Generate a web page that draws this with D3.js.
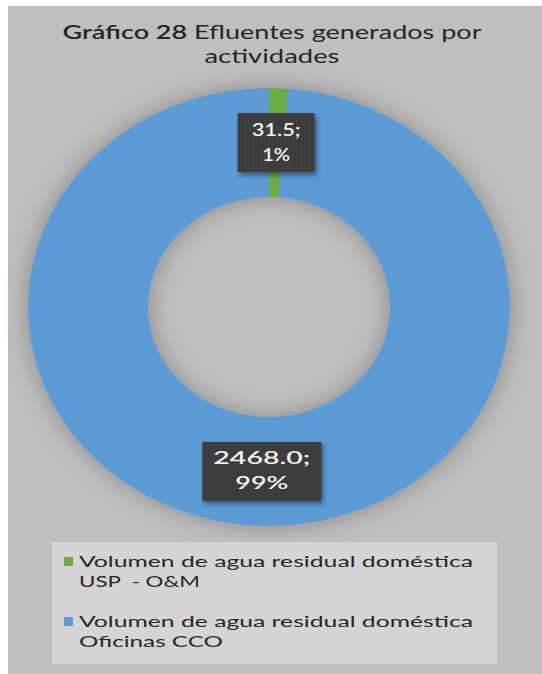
<!DOCTYPE html>
<html>
<head>
<meta charset="utf-8">
<script src="https://cdn.jsdelivr.net/npm/d3@7"></script>
<style>
  html, body { margin: 0; padding: 0; background: #fff; }
  svg { display: block; }
  text { font-family: Lato, "Liberation Sans", sans-serif; }
</style>
</head>
<body>
<div id="chart"></div>
<script>
// datos del gráfico
const categories = ['USP  - O&M', 'Oficinas CCO'];
const legendPrefix = 'Volumen de agua residual doméstica';
const values = [31.5, 2468.0];
const colors = ['#6cab44', '#5b9bd6'];
const titleBold = 'Gráfico 28';
const titleRest = ' Efluentes generados por';
const titleLine2 = 'actividades';

const width = 542, height = 674;
const svg = d3.select('#chart').append('svg')
    .attr('width', width)
    .attr('height', height);

// fondo gris
svg.append('rect')
    .attr('x', 8).attr('y', 6)
    .attr('width', width - 8).attr('height', height - 6)
    .attr('fill', '#bfbfbf');

const defs = svg.append('defs');
const shadow = defs.append('filter').attr('id', 'sombra')
    .attr('x', '-20%').attr('y', '-20%').attr('width', '140%').attr('height', '140%');
shadow.append('feDropShadow')
    .attr('dx', 0).attr('dy', 0)
    .attr('stdDeviation', 11)
    .attr('flood-color', '#000').attr('flood-opacity', 0.3);

const boxShadow = defs.append('filter').attr('id', 'sombraCaja')
    .attr('x', '-20%').attr('y', '-20%').attr('width', '150%').attr('height', '150%');
boxShadow.append('feDropShadow')
    .attr('dx', 2).attr('dy', 3)
    .attr('stdDeviation', 2.5)
    .attr('flood-color', '#000').attr('flood-opacity', 0.45);

const dots = defs.append('pattern').attr('id', 'puntos')
    .attr('width', 4).attr('height', 4).attr('patternUnits', 'userSpaceOnUse');
dots.append('rect').attr('width', 4).attr('height', 4).attr('fill', '#3b3b3b');
dots.append('circle').attr('cx', 1).attr('cy', 1).attr('r', 0.6).attr('fill', '#555');

// helper: texto con ancho fijo
function addText(parent, x, y, str, size, len, opts = {}) {
    return parent.append('text')
        .attr('x', x).attr('y', y)
        .attr('text-anchor', opts.anchor || 'start')
        .attr('font-size', size)
        .attr('font-weight', opts.weight || 'normal')
        .attr('fill', opts.fill || '#262626')
        .attr('textLength', len)
        .attr('lengthAdjust', 'spacingAndGlyphs')
        .style('white-space', 'pre')
        .text(str);
}

// título
const title = svg.append('text')
    .attr('x', 272).attr('y', 39)
    .attr('text-anchor', 'middle')
    .attr('font-size', 19)
    .attr('fill', '#262626')
    .attr('textLength', 419)
    .attr('lengthAdjust', 'spacingAndGlyphs');
title.append('tspan').attr('font-weight', 600).text(titleBold);
title.append('tspan').text(titleRest);
addText(svg, 272, 63, titleLine2, 19, 135, { anchor: 'middle' });

// dona (ligeramente estirada en horizontal)
const cx = 269, cy = 307, outerR = 219, innerR = 110, sx = 1.1;
const pie = d3.pie().sort(null).value(d => d);
const arcs = pie(values);
const arc = d3.arc().innerRadius(innerR).outerRadius(outerR);

const g = svg.append('g')
    .attr('transform', `translate(${cx},${cy}) scale(${sx},1)`)
    .attr('filter', 'url(#sombra)');
g.selectAll('path')
    .data(arcs)
    .enter()
    .append('path')
    .attr('d', arc)
    .attr('fill', (d, i) => colors[i]);

// etiquetas de datos
const total = d3.sum(values);
const boxSizes = [[77, 59], [119, 59]];
const lineWidths = [[49, 28], [97, 53]];
const labels = svg.append('g');
arcs.forEach((d, i) => {
    const c = arc.centroid(d);
    const x = cx + c[0] * sx, y = cy + c[1];
    const [bw, bh] = boxSizes[i];
    const lg = labels.append('g').attr('transform', `translate(${x},${y})`);
    lg.append('rect')
        .attr('x', -bw / 2).attr('y', -bh / 2)
        .attr('width', bw).attr('height', bh)
        .attr('fill', 'url(#puntos)')
        .attr('filter', 'url(#sombraCaja)');
    const line1 = values[i].toFixed(1) + ';';
    const line2 = Math.round(values[i] / total * 100) + '%';
    const opts = { anchor: 'middle', weight: 600, fill: '#f2f2f2' };
    addText(lg, 0, -7, line1, 18, lineWidths[i][0], opts);
    addText(lg, 0, 18, line2, 18, lineWidths[i][1], opts);
});

// leyenda
svg.append('rect')
    .attr('x', 52).attr('y', 542)
    .attr('width', 445).attr('height', 122)
    .attr('fill', '#d5d5d5');

const legend = svg.append('g');
const catWidths = [121, 144];
categories.forEach((cat, i) => {
    const y0 = 567 + i * 60;
    legend.append('rect')
        .attr('x', 64).attr('y', y0 - 10)
        .attr('width', 9).attr('height', 9)
        .attr('fill', colors[i]);
    addText(legend, 79, y0, legendPrefix, 16, 394);
    addText(legend, 79, y0 + 20, cat, 16, catWidths[i]);
});
</script>
</body>
</html>
